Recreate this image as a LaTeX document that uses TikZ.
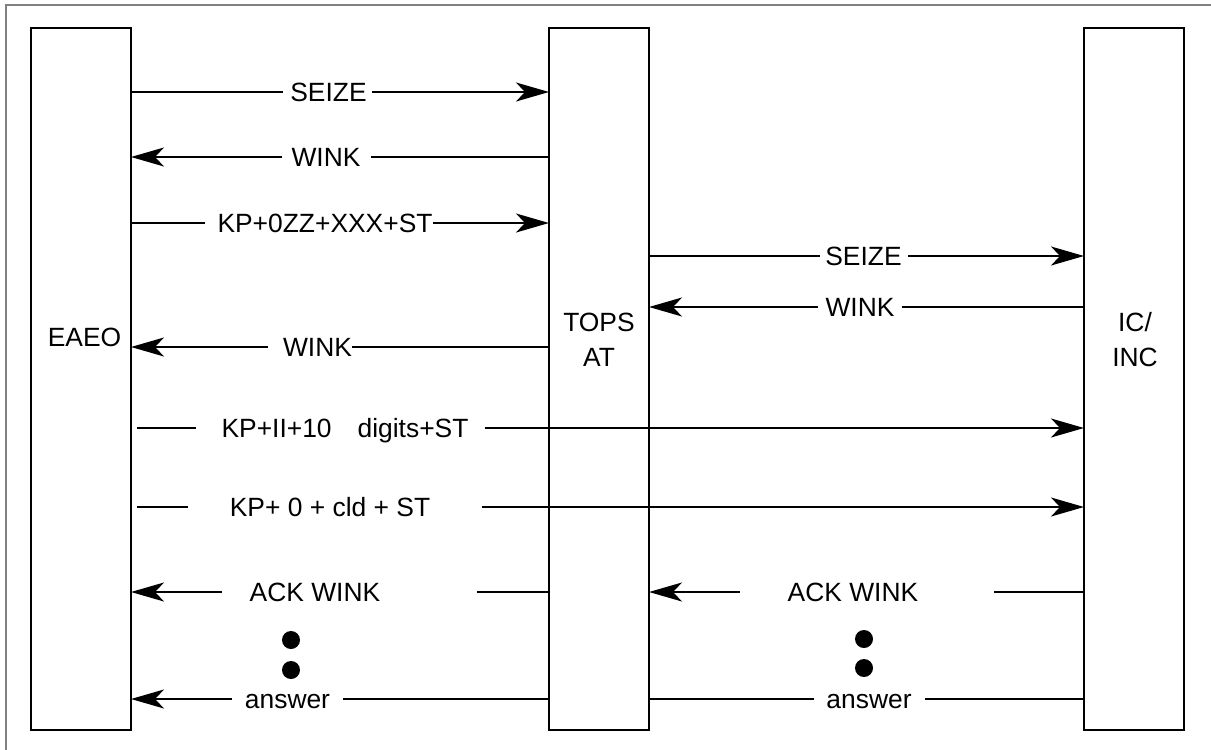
\documentclass[tikz,border=0pt]{standalone}
\usepackage{fontspec}
\setmainfont{Liberation Sans}
\usetikzlibrary{arrows.meta}

\begin{document}
\begin{tikzpicture}[
  x=1pt,y=-1pt,
  >={Stealth[length=33pt,width=19pt,inset=9pt]},
  exch/.style={draw,line width=2.5pt,minimum width=100pt,minimum height=702pt,
    inner sep=0pt,outer sep=0pt,anchor=north west},
  unitname/.style={font=\fontsize{26.4}{35}\selectfont,align=center,inner sep=0pt},
  msg/.style={font=\fontsize{26.4}{31}\selectfont,inner sep=0pt,
    text height=18.9pt,text depth=0pt},
  sig/.style={line width=2pt},
  pause/.style={circle,fill,inner sep=0pt,minimum size=18pt},
]
\useasboundingbox (0,0) rectangle (1211,750);

% Outer frame (only top and left edge visible)
\draw[gray,line width=1.5pt] (6,750) -- (6,5) -- (1211,5);

% Exchanges
\node[exch] (eaeo) at (31,28) {};
\node[exch] (tops) at (549,28) {};
\node[exch] (inc)  at (1084,28) {};

\node[unitname,anchor=base] (eaeolbl) at (84.5,346) {EAEO};
\node[unitname] (topslbl) at (599,340) {TOPS\\AT};
\node[unitname] (inclbl)  at (1135,340) {IC/\\INC};

% EAEO <-> TOPS AT
\node[msg] (m1) at (328.5,92) {SEIZE};
\draw[sig,shorten >=7pt] (eaeo.east |- m1) -- (m1.west);
\draw[sig,->,shorten <=5pt] (m1.east) -- (tops.west |- m1);

\node[msg] (m2) at (326,157) {WINK};
\draw[sig,->,shorten <=9pt] (m2.west) -- (eaeo.east |- m2);
\draw[sig,shorten <=10pt] (m2.east) -- (tops.west |- m2);

\node[msg] (m3) at (325,223) {KP+0ZZ+XXX+ST};
\draw[sig,shorten >=12pt] (eaeo.east |- m3) -- (m3.west);
\draw[sig,->] (m3.east) -- (tops.west |- m3);

\node[msg] (m4) at (317.5,347) {WINK};
\draw[sig,->,shorten <=15pt] (m4.west) -- (eaeo.east |- m4);
\draw[sig] (m4.east) -- (tops.west |- m4);

% TOPS AT <-> IC/INC
\node[msg] (m5) at (863.5,256) {SEIZE};
\draw[sig,shorten >=5pt] (tops.east |- m5) -- (m5.west);
\draw[sig,->,shorten <=6pt] (m5.east) -- (inc.west |- m5);

\node[msg] (m6) at (860,307) {WINK};
\draw[sig,->,shorten <=7pt] (m6.west) -- (tops.east |- m6);
\draw[sig,shorten <=7pt] (m6.east) -- (inc.west |- m6);

% EAEO -> IC/INC, straight through
\node[msg] (m7) at (345,428) {KP+II+10\hspace{26pt}digits+ST};
\draw[sig,shorten <=6pt,shorten >=25pt] (eaeo.east |- m7) -- (m7.west);
\draw[sig,->,shorten <=16pt] (m7.east) -- (inc.west |- m7);

\node[msg] (m8) at (330,507) {KP+ 0 + cld + ST};
\draw[sig,shorten <=6pt,shorten >=42pt] (eaeo.east |- m8) -- (m8.west);
\draw[sig,->,shorten <=52pt] (m8.east) -- (inc.west |- m8);

% Acknowledgements
\node[msg] (m9) at (315,592) {ACK WINK};
\draw[sig,->,shorten <=28pt] (m9.west) -- (eaeo.east |- m9);
\draw[sig,shorten <=97pt] (m9.east) -- (tops.west |- m9);

\node[msg] (m10) at (853,592) {ACK WINK};
\draw[sig,->,shorten <=48pt] (m10.west) -- (tops.east |- m10);
\draw[sig,shorten <=76pt] (m10.east) -- (inc.west |- m10);

% Pause dots
\node[pause] (d1) at (291,640) {};
\node[pause] (d2) at (291,670) {};
\node[pause] (d3) at (864,639) {};
\node[pause] (d4) at (864,668) {};

% Answer
\node[msg] (m11) at (287.5,699) {answer};
\draw[sig,->,shorten <=13pt] (m11.west) -- (eaeo.east |- m11);
\draw[sig,shorten <=13pt] (m11.east) -- (tops.west |- m11);

\node[msg] (m12) at (869,699) {answer};
\draw[sig,shorten <=12pt] (m12.west) -- (tops.east |- m12);
\draw[sig,shorten <=13pt] (m12.east) -- (inc.west |- m12);

\end{tikzpicture}
\end{document}
